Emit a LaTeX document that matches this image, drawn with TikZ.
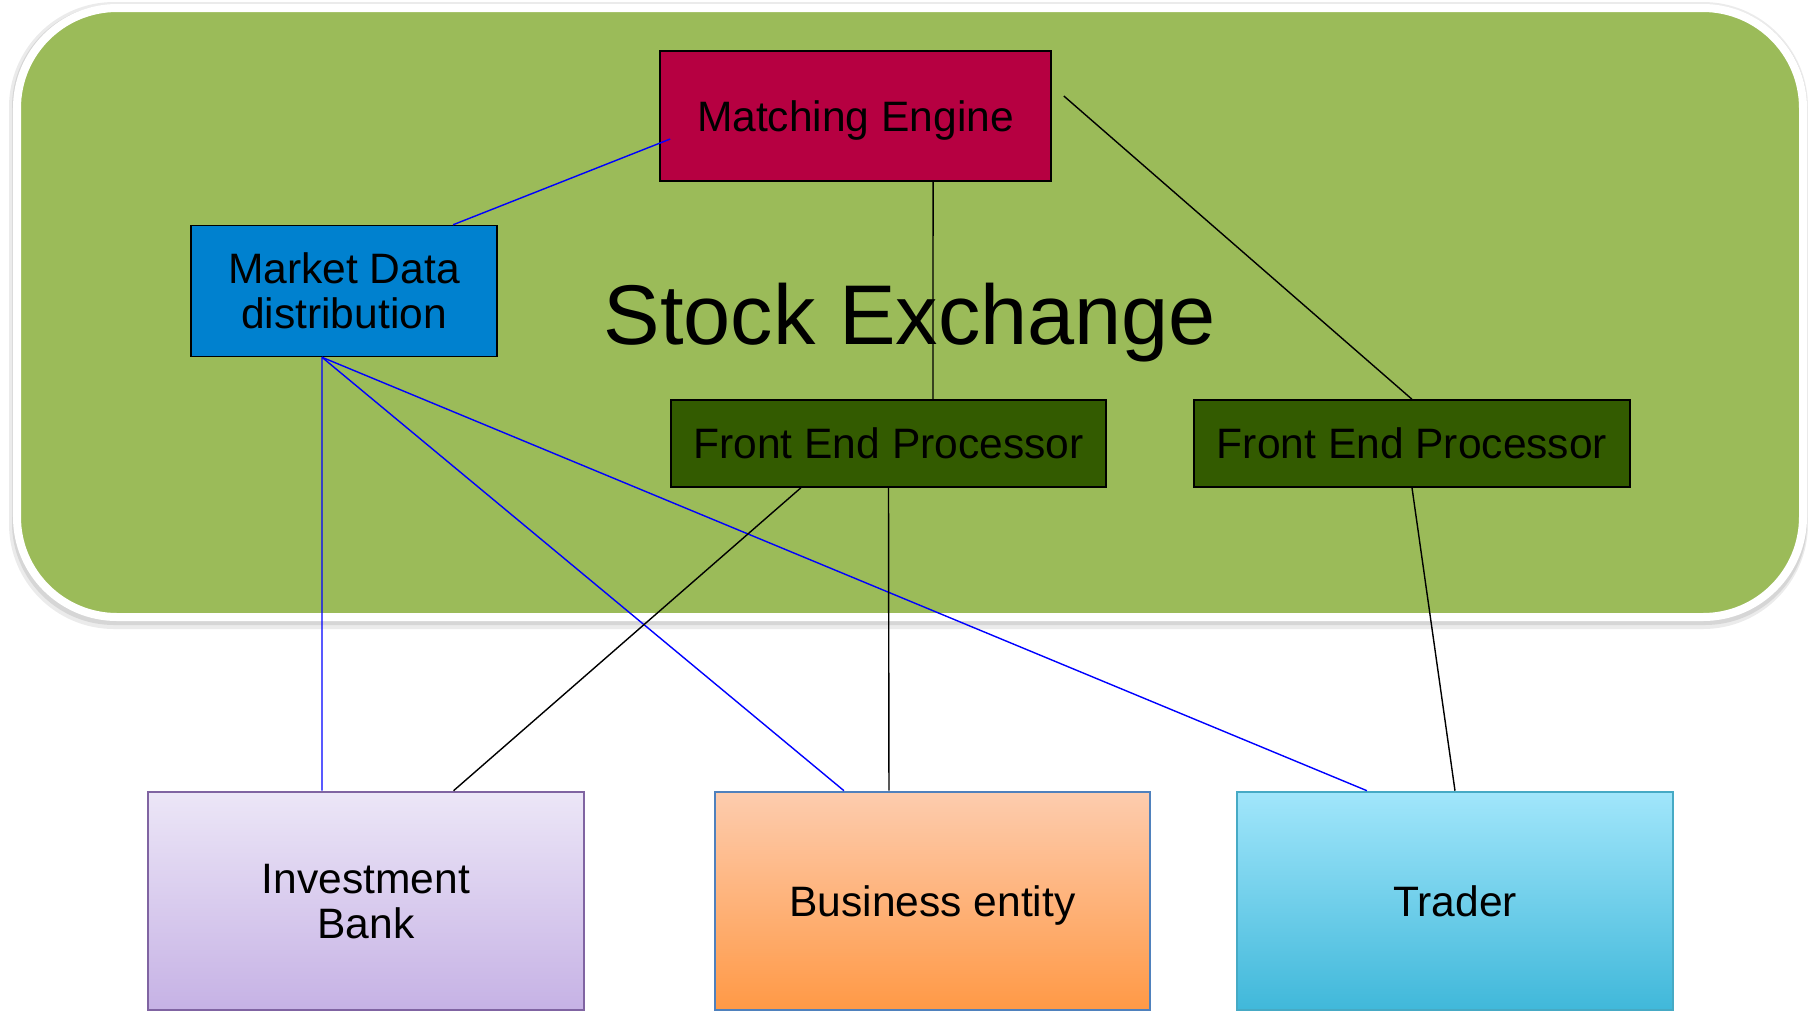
\documentclass[tikz,border=0pt]{standalone}
\usepackage{fontspec}
\setmainfont{Liberation Sans}
\usetikzlibrary{positioning}

\definecolor{exgreen}{RGB}{155,187,89}
\definecolor{mecol}{RGB}{182,0,65}
\definecolor{mdcol}{RGB}{0,129,207}
\definecolor{fepcol}{RGB}{51,91,0}
\definecolor{ibtop}{RGB}{236,230,247}
\definecolor{ibbot}{RGB}{198,178,229}
\definecolor{ibline}{RGB}{128,100,162}
\definecolor{betop}{RGB}{253,204,174}
\definecolor{bebot}{RGB}{255,153,70}
\definecolor{beline}{RGB}{79,129,189}
\definecolor{trtop}{RGB}{161,230,251}
\definecolor{trbot}{RGB}{64,184,218}
\definecolor{trline}{RGB}{70,170,197}

\begin{document}
\begin{tikzpicture}[x=0.01cm,y=-0.01cm,
 sysbox/.style={draw=black,line width=0.4pt,inner sep=0pt,align=center,text depth=0pt,
   font=\fontsize{12.1}{12.8}\selectfont},
 userbox/.style={sysbox,line width=0.7pt,minimum width=4.36cm,minimum height=2.18cm},
 feed/.style={blue,line width=0.4pt},
 order/.style={black,line width=0.4pt}]
 \useasboundingbox (0,0) rectangle (1808,1011);
 % exchange area
 \fill[black!8,rounded corners=1.05cm](9,2) rectangle (1808,629);
 \fill[black!16,rounded corners=1.02cm](12,5) rectangle (1807,625);
 \draw[white,fill=exgreen,line width=0.08cm,rounded corners=1cm](17,8) rectangle (1803,617);
 \node[anchor=base,font=\fontsize{24.1}{29}\selectfont] (title) at (910,344) {Stock Exchange};
 % inside the exchange
 \node[sysbox,fill=mecol,minimum width=3.91cm,minimum height=1.30cm] (me) at (855.5,116) {Matching Engine};
 \node[sysbox,fill=mdcol,minimum width=3.06cm,minimum height=1.31cm] (md) at (344,291) {Market Data\\distribution};
 \node[sysbox,fill=fepcol,minimum width=4.35cm,minimum height=0.87cm] (fep1) at (888.5,443.5) {Front End Processor};
 \node[sysbox,fill=fepcol,minimum width=4.36cm,minimum height=0.87cm] (fep2) at (1412,443.5) {Front End Processor};
 % participants
 \node[userbox,draw=ibline,top color=ibtop,bottom color=ibbot] (ib) at (366,901) {Investment\\Bank};
 \node[userbox,draw=beline,top color=betop,bottom color=bebot,minimum width=4.35cm] (be) at (932.5,901) {Business entity};
 \node[userbox,draw=trline,top color=trtop,bottom color=trbot] (tr) at (1455,901) {Trader};
 \coordinate (mdout) at ([xshift=-0.22cm]md.south);
 % links
 \draw[feed]([xshift=0.11cm,yshift=-0.23cm]me.west)--([xshift=1.09cm]md.north);
 \draw[order]([xshift=0.12cm,yshift=0.2cm]me.east)--(fep2.north);
 \draw[order]([xshift=0.775cm]me.south)--([xshift=0.445cm]fep1.north);
 \draw[feed](mdout)--([xshift=-0.44cm]ib.north);
 \draw[feed](mdout)--([xshift=-0.885cm]be.north);
 \draw[feed](mdout)--([xshift=-0.88cm]tr.north);
 \draw[order]([xshift=-0.875cm]fep1.south)--([xshift=0.875cm]ib.north);
 \draw[order](fep1.south)--([xshift=-0.435cm]be.north);
 \draw[order](fep2.south)--(tr.north);
\end{tikzpicture}
\end{document}
